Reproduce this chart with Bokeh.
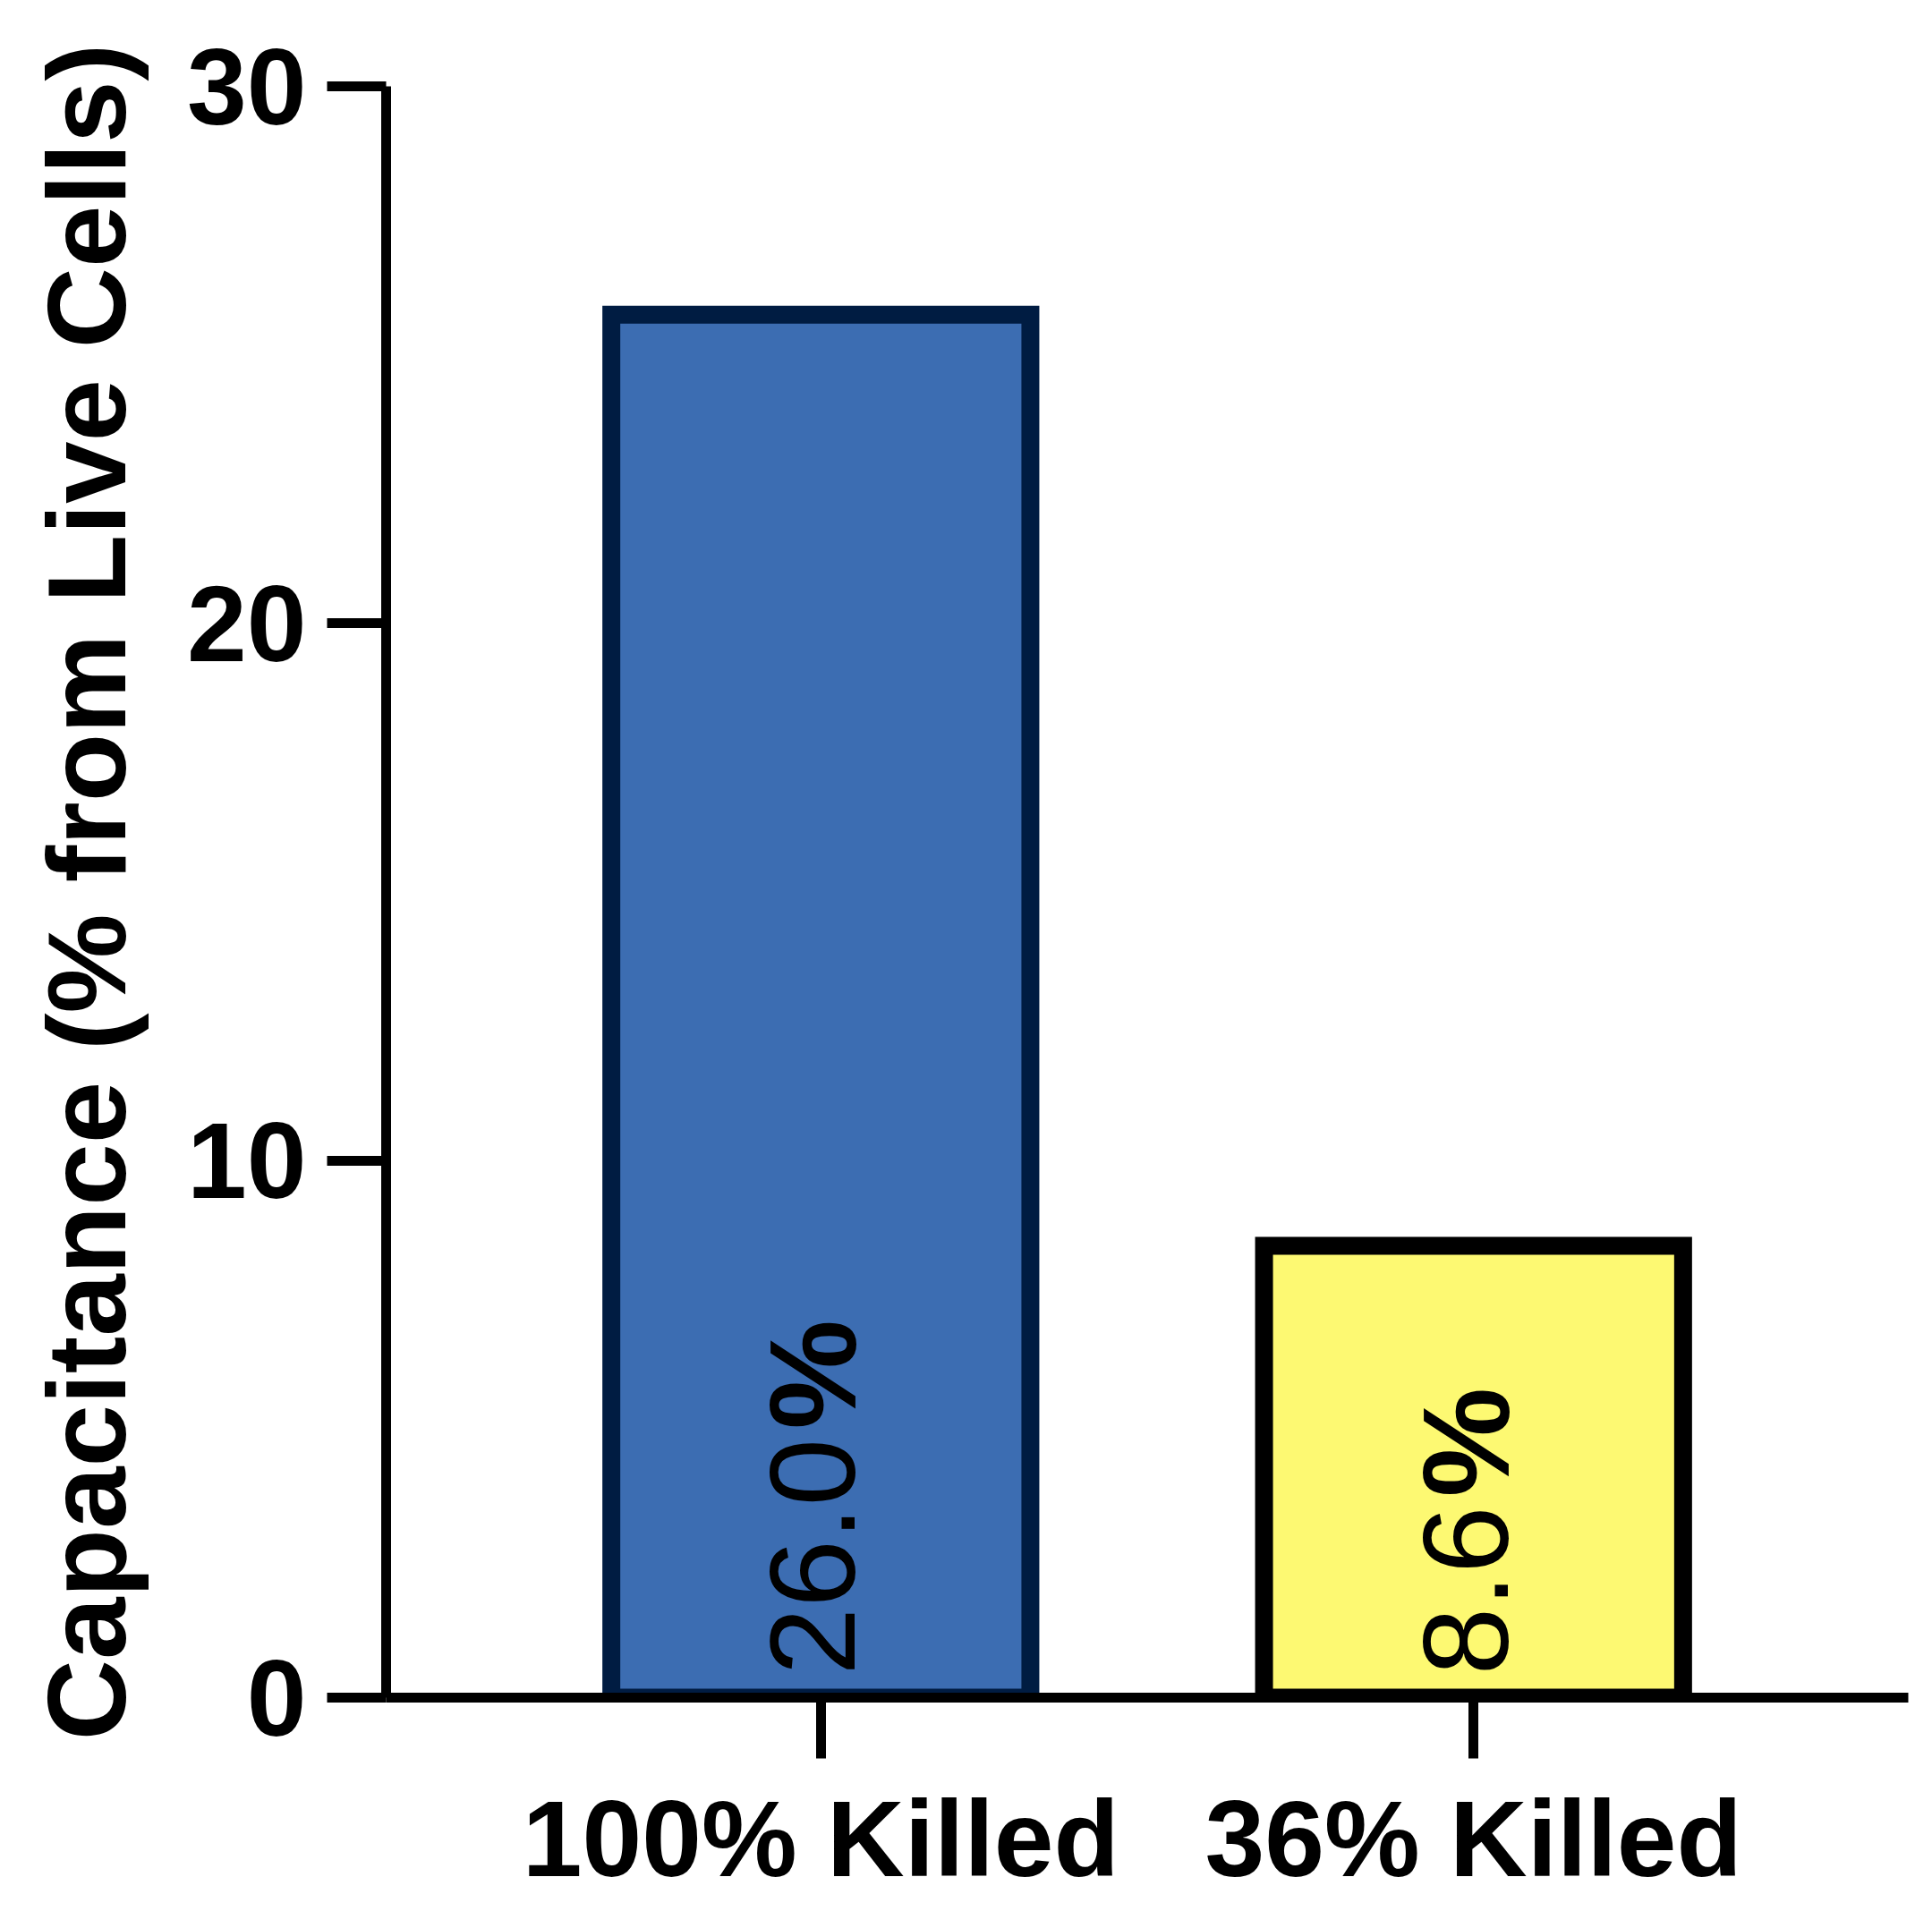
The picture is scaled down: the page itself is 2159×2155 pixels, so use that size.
from bokeh.plotting import figure
from bokeh.models import FactorRange, Range1d, SingleIntervalTicker, ColumnDataSource
from bokeh.core.properties import value
from bokeh.embed import file_html
from bokeh.resources import INLINE

# ---- data ----
categories = ["100% Killed", "36% Killed"]
capacitance = [25.75, 8.41]
label_values = ["26.0", "8.6"]
fill_colors = ["#3c6db2", "#fdf972"]
line_colors = ["#001c42", "#000000"]
y_ticks_interval = 10

FONT = "Liberation Sans"
NUM_SIZE = 136
PCT_SIZE = 138
# Liberation Sans (Arial metrics) advance widths, em units
ADV = {c: 0.556 for c in "0123456789"}
ADV["."] = 0.278

start_off = -25
pct_offsets = [start_off - sum(ADV[c] for c in s) * NUM_SIZE - 10 for s in label_values]

src = ColumnDataSource(dict(cat=categories, val=capacitance, fill=fill_colors,
                            line=line_colors, num=label_values,
                            pct=["%"] * len(categories), pct_off=pct_offsets,
                            zero=[0] * len(categories)))

p = figure(width=2150, height=2150,
           x_range=FactorRange(factors=categories, range_padding=0.166,
                               range_padding_units="absolute"),
           y_range=Range1d(0, 30),
           output_backend="svg", toolbar_location=None,
           min_border_left=431, min_border_right=18,
           min_border_top=96, min_border_bottom=253)

p.vbar(x="cat", top="val", bottom=0, width=0.642, source=src,
       fill_color="fill", line_color="line", line_width=20, line_join="miter")

p.text(x="cat", y="zero", text="num", source=src, angle=1.5708,
       text_font=value(FONT), text_font_size=f"{NUM_SIZE}px",
       text_align="left", text_baseline="alphabetic",
       x_offset=-9, y_offset=start_off, text_color="black")
p.text(x="cat", y="zero", text="pct", source=src, angle=1.5708,
       text_font=value(FONT), text_font_size=f"{PCT_SIZE}px", text_font_style="bold",
       text_align="left", text_baseline="alphabetic",
       x_offset=-9, y_offset="pct_off", text_color="black")

p.grid.visible = False
p.outline_line_color = None
p.background_fill_color = "white"
p.border_fill_color = "white"

for ax in (p.xaxis[0], p.yaxis[0]):
    ax.axis_line_width = 11
    ax.axis_line_color = "black"
    ax.major_tick_line_width = 11
    ax.major_tick_line_color = "black"
    ax.major_tick_in = 0
    ax.minor_tick_line_color = None
    ax.major_label_text_font = FONT
    ax.major_label_text_font_style = "bold"
    ax.major_label_text_font_size = "120px"
    ax.major_label_text_color = "black"

p.xaxis[0].major_tick_out = 68
p.xaxis[0].major_label_standoff = 22

p.yaxis[0].ticker = SingleIntervalTicker(interval=y_ticks_interval, num_minor_ticks=0)
p.yaxis[0].major_tick_out = 66
p.yaxis[0].major_label_standoff = 23
p.yaxis[0].axis_label = "Capacitance (% from Live Cells)"
p.yaxis[0].axis_label_text_font = FONT
p.yaxis[0].axis_label_text_font_style = "bold"
p.yaxis[0].axis_label_text_font_size = "125px"
p.yaxis[0].axis_label_text_color = "black"
p.yaxis[0].axis_label_standoff = 40

open("out.html", "w").write(file_html(p, INLINE))
